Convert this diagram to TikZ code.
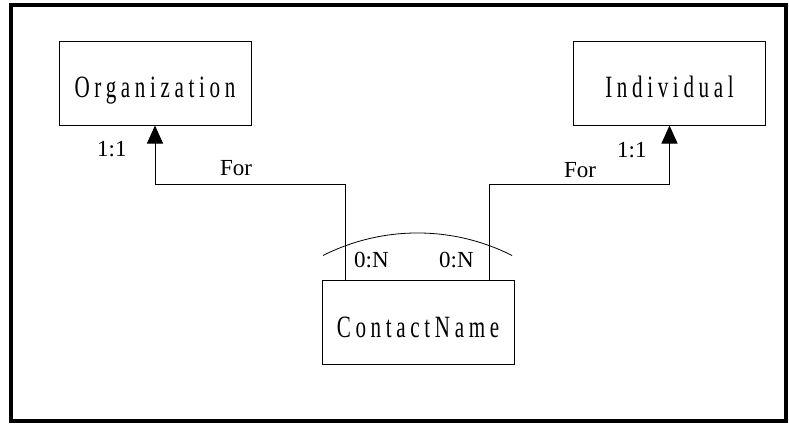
\documentclass[tikz,border=0pt]{standalone}
\usepackage{fontspec}
\setmainfont{Liberation Serif}
\newfontfamily\boxfont[FakeStretch=0.68,LetterSpace=15]{Liberation Serif}
\usetikzlibrary{arrows.meta}
\begin{document}
\begin{tikzpicture}[x=1pt,y=-1pt,
  entity/.style={draw,line width=1pt,minimum width=192pt,minimum height=84pt,inner sep=0pt},
  etext/.style={anchor=base,inner sep=0pt,font=\boxfont\fontsize{31}{37}\selectfont},
  conn/.style={line width=1pt,-{Triangle[length=18pt,width=16pt]}},
  lbl/.style={anchor=base west,inner sep=0pt,font=\fontsize{23}{27}\selectfont}]
\useasboundingbox (0,0) rectangle (789,423);
\draw[line width=4pt] (11,5) rectangle (786,421);
\node[entity] (org) at (155,83) {};
\node[etext] (orgt) at (155,97) {Organization};
\node[entity] (ind) at (669.5,83) {};
\node[etext] (indt) at (669.5,97) {Individual};
\node[entity] (cn) at (418,322) {};
\node[etext] (cnt) at (418,337) {ContactName};
\coordinate (lj) at (345,184);
\coordinate (rj) at (489,184);
\draw[conn] (cn.north -| lj) -- (lj) -| (org.south);
\draw[conn] (cn.north -| rj) -- (rj) -| (ind.south);
\draw[line width=0.8pt] (323,255.5) arc[start angle=243.2,end angle=296.8,radius=209.7];
\node[lbl] (l11) at (97,156) {1:1};
\node[lbl] (lfor) at (220,175) {For};
\node[lbl] (rfor) at (564,177) {For};
\node[lbl] (r11) at (617,157) {1:1};
\node[lbl] (l0n) at (354,267) {0:N};
\node[lbl] (r0n) at (439,267) {0:N};
\end{tikzpicture}
\end{document}
